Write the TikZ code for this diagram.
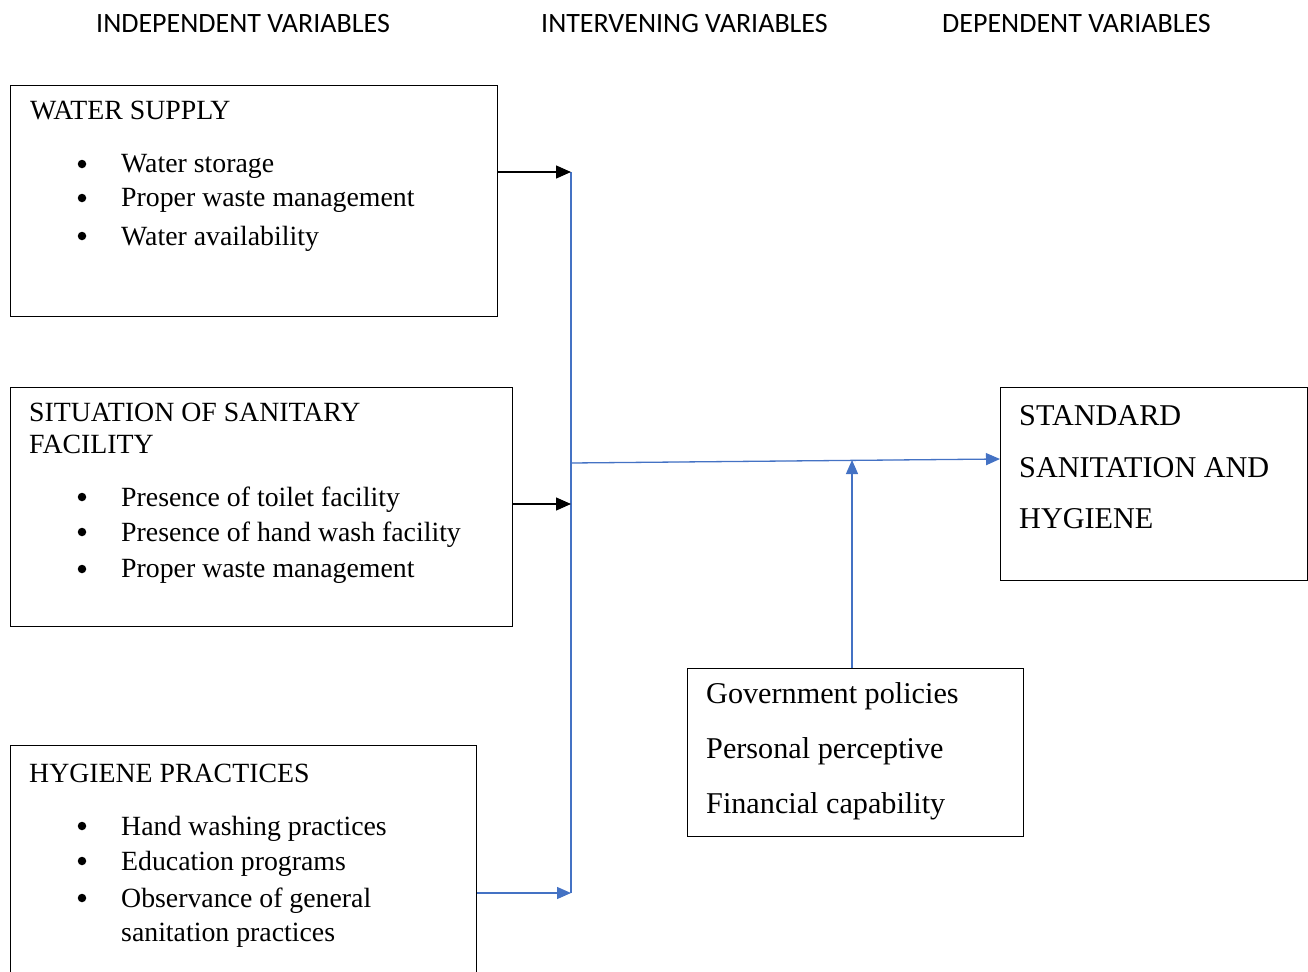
\documentclass[tikz,border=0pt]{standalone}
\usepackage{fontspec}
\setmainfont{Liberation Serif}
\newfontfamily\headfont{Carlito}
\usetikzlibrary{arrows.meta}
\definecolor{linkblue}{RGB}{68,114,196}

\begin{document}
\begin{tikzpicture}[x=1pt,y=-1pt,
   box/.style={draw=black, line width=1.2pt, anchor=north west, inner sep=0pt},
   head/.style={font=\headfont\fontsize{28}{32}\selectfont, anchor=west, inner sep=0pt},
   txt/.style={font=\fontsize{27.8}{33}\selectfont, anchor=west, inner sep=0pt, yshift=-2.5pt},
   big/.style={txt, font=\fontsize{30.2}{36}\selectfont},
   dot/.style={circle, fill=black, inner sep=0pt, minimum size=8.5pt},
   blk/.style={-{Triangle[length=15pt,width=13pt]}, line width=1.3pt},
   blu/.style={draw=linkblue, line width=1.3pt},
   blutip/.style={blu, -{Triangle[length=14pt,width=12pt]}, fill=linkblue}]

   \useasboundingbox (0,0) rectangle (1308,971);

   % column headings
   \node[head] (indep) at (96,24) {INDEPENDENT VARIABLES};
   \node[head] (interv) at (541,24) {INTERVENING VARIABLES};
   \node[head] (dep) at (942,24) {DEPENDENT VARIABLES};

   % boxes
   \node[box, minimum width=487, minimum height=231] (water) at (10,85) {};
   \node[box, minimum width=502, minimum height=239] (sanit) at (10,387) {};
   \node[box, minimum width=466, minimum height=260] (hyg) at (10,745) {};
   \node[box, minimum width=307, minimum height=193] (stand) at (1000,387) {};
   \node[box, minimum width=336, minimum height=168] (gov) at (687,668) {};

   % water supply
   \node[txt] (wtitle) at (30,108) {WATER SUPPLY};
   \node[dot] at (82,164) {};
   \node[txt] (w1) at (121,164) {Water storage};
   \node[dot] at (82,198) {};
   \node[txt] (w2) at (121,198) {Proper waste management};
   \node[dot] at (82,236) {};
   \node[txt] (w3) at (121,236) {Water availability};

   % sanitary facility
   \node[txt] (stitle) at (29,410) {SITUATION OF SANITARY};
   \node[txt] (stitle2) at (29,442) {FACILITY};
   \node[dot] at (82,497) {};
   \node[txt] (s1) at (121,497) {Presence of toilet facility};
   \node[dot] at (82,532) {};
   \node[txt] (s2) at (121,532) {Presence of hand wash facility};
   \node[dot] at (82,569) {};
   \node[txt] (s3) at (121,569) {Proper waste management};

   % hygiene practices
   \node[txt] (htitle) at (29,771) {HYGIENE PRACTICES};
   \node[dot] at (82,826) {};
   \node[txt] (h1) at (121,826) {Hand washing practices};
   \node[dot] at (82,861) {};
   \node[txt] (h2) at (121,861) {Education programs};
   \node[dot] at (82,898) {};
   \node[txt] (h3) at (121,898) {Observance of general};
   \node[txt] (h4) at (121,933) {sanitation practices};

   % dependent
   \node[big] (d1) at (1019,413) {STANDARD};
   \node[big] (d2) at (1019,465) {SANITATION AND};
   \node[big] (d3) at (1019,516) {HYGIENE};

   % intervening
   \node[big] (g1) at (706,694) {Government policies};
   \node[big] (g2) at (706,749) {Personal perceptive};
   \node[big] (g3) at (706,804) {Financial capability};

   % connectors
   \coordinate (top) at (571,172);
   \coordinate (mid) at (571,504);
   \coordinate (bot) at (571,893);
   \coordinate (split) at (571,463);
   \coordinate (goal) at (1000,459);
   \coordinate (meet) at (852,460);

   \draw[blu] (top) -- (bot);
   \draw[blk] (water.east |- top) -- (top);
   \draw[blk] (sanit.east |- mid) -- (mid);
   \draw[blutip] (hyg.east |- bot) -- (bot);
   \draw[blutip] (split) -- (goal);
   \draw[blutip] (gov.north -| meet) -- (meet);

\end{tikzpicture}
\end{document}
